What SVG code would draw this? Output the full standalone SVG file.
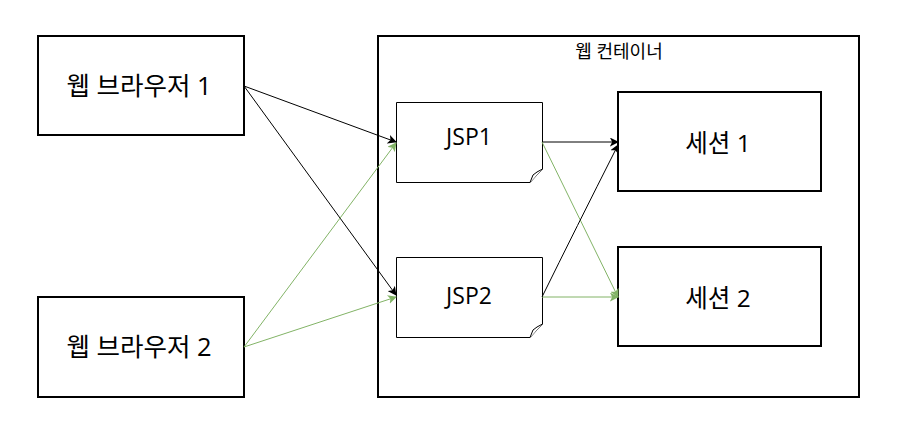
<svg xmlns="http://www.w3.org/2000/svg" width="901" height="441" viewBox="0 0 901 441">
<style>
.box{fill:#fff;stroke:#000;stroke-width:2}
.note{fill:#fff;stroke:#000;stroke-width:1}
.t{font-family:"Open Sans","Noto Sans CJK KR",sans-serif;fill:#000;text-anchor:middle;dominant-baseline:central}
.k{stroke:#000;stroke-width:1;fill:none}
.g{stroke:#82b366;stroke-width:1;fill:none}
</style>
<defs>
<marker id="ak" viewBox="0 0 10 10" refX="9" refY="5" markerWidth="9" markerHeight="9" markerUnits="userSpaceOnUse" orient="auto"><path d="M0,0 L10,5 L0,10 L2.5,5 Z" fill="#000"/></marker>
<marker id="ag" viewBox="0 0 10 10" refX="9" refY="5" markerWidth="9" markerHeight="9" markerUnits="userSpaceOnUse" orient="auto"><path d="M0,0 L10,5 L0,10 L2.5,5 Z" fill="#82b366"/></marker>
</defs>
<rect width="901" height="441" fill="#fff"/>
<g id="container">
<rect class="box" x="378" y="36" width="481" height="361"/>
<text class="t" x="619" y="51" font-size="18">웹 컨테이너</text>
</g>
<g id="browser1">
<rect class="box" x="38" y="36" width="206" height="99"/>
<text class="t" x="139" y="85" font-size="25.5">웹 브라우저 1</text>
</g>
<g id="browser2">
<rect class="box" x="38" y="297" width="206" height="100"/>
<text class="t" x="139" y="346" font-size="25.5">웹 브라우저 2</text>
</g>
<g id="jsp1">
<path class="note" d="M396.5,102.5 H542.5 V169 L530,182.5 H396.5 Z"/>
<path class="note" d="M530,182.5 L533,175 L537,172 L542.5,169"/>
<text class="t" x="469" y="136" font-size="23">JSP1</text>
</g>
<g id="jsp2">
<path class="note" d="M396.5,257.5 H542.5 V324 L530,337.5 H396.5 Z"/>
<path class="note" d="M530,337.5 L533,330 L537,327 L542.5,324"/>
<text class="t" x="469" y="295" font-size="23">JSP2</text>
</g>
<g id="session1">
<rect class="box" x="618" y="92" width="203" height="99"/>
<text class="t" x="718" y="142" font-size="24.5">세션 1</text>
</g>
<g id="session2">
<rect class="box" x="618" y="247" width="203" height="99"/>
<text class="t" x="718" y="297" font-size="24.5">세션 2</text>
</g>
<g id="connectors">
<line class="k" x1="244" y1="86" x2="396" y2="142" marker-end="url(#ak)"/>
<line class="k" x1="244" y1="86" x2="396" y2="295" marker-end="url(#ak)"/>
<line class="g" x1="244" y1="347" x2="396" y2="143" marker-end="url(#ag)"/>
<line class="g" x1="244" y1="347" x2="396" y2="297" marker-end="url(#ag)"/>
<line class="k" x1="542" y1="142" x2="618" y2="142" marker-end="url(#ak)"/>
<line class="g" x1="542" y1="142" x2="618" y2="297" marker-end="url(#ag)"/>
<line class="g" x1="542" y1="297" x2="618" y2="297" marker-end="url(#ag)"/>
<path class="k" d="M542,297 Q575,230 618,145" marker-end="url(#ak)"/>
</g>
</svg>
